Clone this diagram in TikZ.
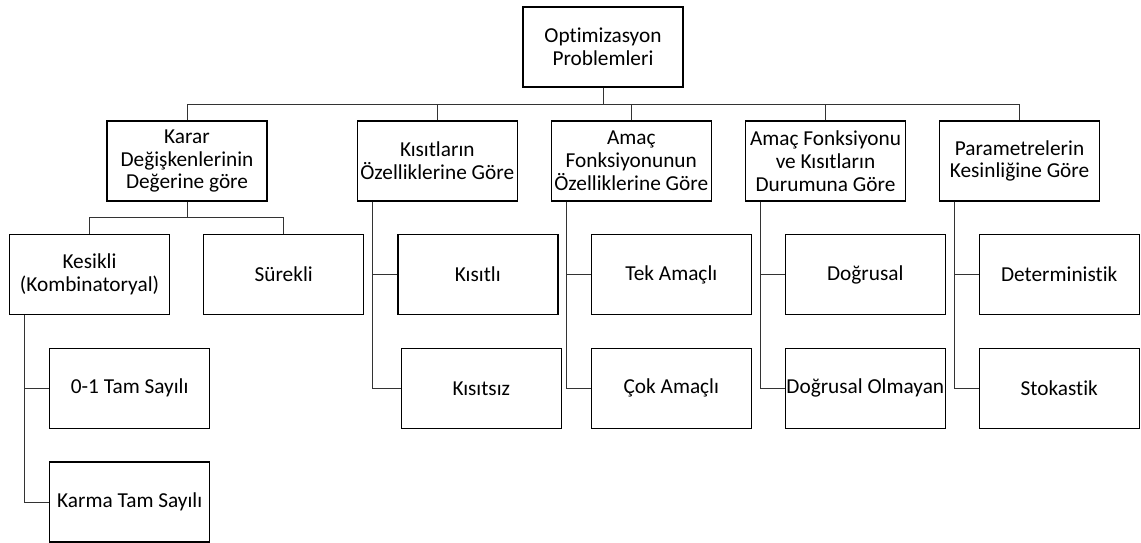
\documentclass[tikz,border=0pt]{standalone}
\usepackage{fontspec}
\setmainfont{Carlito}[Ligatures=NoCommon]
\begin{document}
\begin{tikzpicture}[x=1pt,y=-1pt,
  box/.style={draw=black,line width=1.4pt,fill=white,minimum width=160pt,minimum height=80pt,
    inner sep=0pt,align=center,font=\fontsize{21.3}{22.8}\selectfont},
  link/.style={draw=black!80,line width=1pt}]
\useasboundingbox (0,0) rectangle (1141,543);
% root
\node[box] (root) at (603,47) {Optimizasyon\\Problemleri};
% first level
\node[box] (A) at (187,161) {Karar\\Değişkenlerinin\\Değerine göre};
\node[box] (B) at (437.3,161) {Kısıtların\\Özelliklerine Göre};
\node[box] (C) at (631.3,161) {Amaç\\Fonksiyonunun\\Özelliklerine Göre};
\node[box] (D) at (825.5,161) {Amaç Fonksiyonu\\ve Kısıtların\\Durumuna Göre};
\node[box] (E) at (1019.5,161) {Parametrelerin\\Kesinliğine Göre};
% second level
\node[box] (kes) at (89.5,274.5) {Kesikli\\(Kombinatoryal)};
\node[box] (sur) at (283.7,274.5) {Sürekli};
\node[box] (zero) at (129.7,388.3) {0-1 Tam Sayılı};
\node[box] (karma) at (129.7,502) {Karma Tam Sayılı};
\node[box] (kisitli) at (477.8,274.5) {Kısıtlı};
\node[box] (kisitsiz) at (481.3,388.3) {Kısıtsız};
\node[box] (tek) at (671.3,274.5) {Tek Amaçlı};
\node[box] (cok) at (671.3,388.3) {Çok Amaçlı};
\node[box] (dog) at (865.3,274.5) {Doğrusal};
\node[box] (dogo) at (865.3,388.3) {Doğrusal Olmayan};
\node[box] (det) at (1059.2,274.5) {Deterministik};
\node[box] (sto) at (1059.2,388.3) {Stokastik};
% bus lines
\coordinate (bus) at (0,104);
\coordinate (busA) at (0,217.7);
\draw[link] (root.south) -- (root.south |- bus);
\draw[link] (A.north) -- (A.north |- bus) -| (E.north);
\foreach \n in {B,C,D} \draw[link] (\n.north) -- (\n.north |- bus);
\draw[link] (A.south) -- (A.south |- busA);
\draw[link] (kes.north) -- (kes.north |- busA) -| (sur.north);
% side rails
\draw[link] ([xshift=16pt]kes.south west) |- (zero.west);
\draw[link] ([xshift=16pt]kes.south west) |- (karma.west);
\draw[link] ([xshift=16pt]B.south west) |- (kisitli.west);
\draw[link] ([xshift=16pt]B.south west) |- (kisitsiz.west);
\draw[link] ([xshift=16pt]C.south west) |- (tek.west);
\draw[link] ([xshift=16pt]C.south west) |- (cok.west);
\draw[link] ([xshift=16pt]D.south west) |- (dog.west);
\draw[link] ([xshift=16pt]D.south west) |- (dogo.west);
\draw[link] ([xshift=16pt]E.south west) |- (det.west);
\draw[link] ([xshift=16pt]E.south west) |- (sto.west);
\end{tikzpicture}
\end{document}
